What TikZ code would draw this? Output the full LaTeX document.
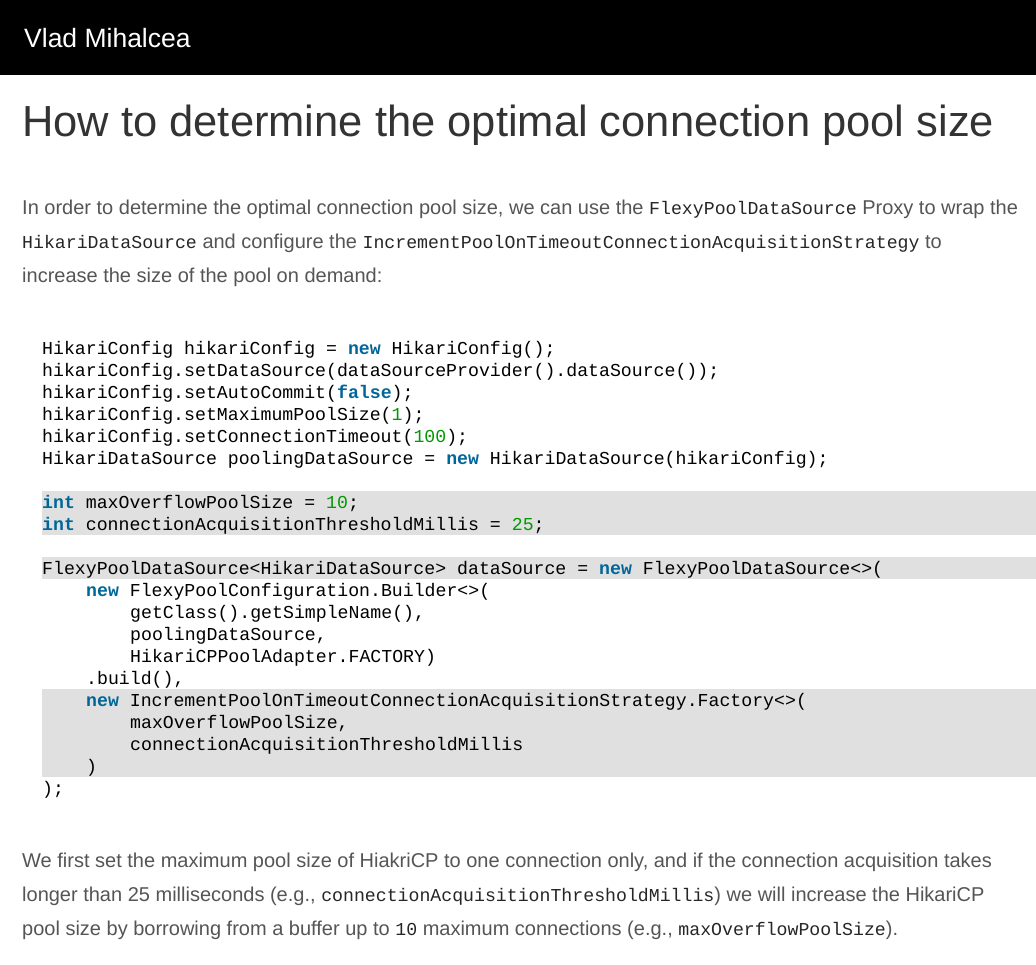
\documentclass[tikz,border=0pt]{standalone}
\usepackage{fontspec}
\setmainfont{Liberation Sans}
\newfontfamily\cm[Scale=1]{Liberation Mono}
\definecolor{kw}{HTML}{006699}
\definecolor{num}{HTML}{009900}
\definecolor{txt}{HTML}{555555}
\definecolor{hl}{HTML}{E0E0E0}
\newcommand{\kw}[1]{\textbf{\color{kw}#1}}
\newcommand{\nm}[1]{{\color{num}#1}}
\begin{document}
\begin{tikzpicture}[x=1pt,y=-1pt,
  code/.style={anchor=base west,inner sep=0pt,font=\fontsize{18.2}{22}\cm,text=black},
  para/.style={anchor=base west,inner sep=0pt,font=\fontsize{20}{24}\selectfont,text=txt}]
\useasboundingbox (0,0) rectangle (1036,964);
\fill[white] (0,0) rectangle (1036,964);
\fill[black] (0,0) rectangle (1036,75);
\node[anchor=base west,inner sep=0pt,text=white,font=\fontsize{26.5}{30}\selectfont] (hdr) at (24,47) {Vlad Mihalcea};
\node[anchor=base west,inner sep=0pt,text=black!80,font=\fontsize{43.5}{50}\selectfont] (title) at (22,136) {How to determine the optimal connection pool size};
\newcommand{\ic}[1]{{\fontsize{18.2}{22}\cm\color{black!85}#1}}
\node[para] (p1) at (22,214) {In order to determine the optimal connection pool size, we can use the \ic{FlexyPoolDataSource} Proxy to wrap the};
\node[para] (p2) at (22,248) {\ic{HikariDataSource} and configure the \ic{IncrementPoolOnTimeoutConnectionAcquisitionStrategy} to};
\node[para] (p3) at (22,282) {increase the size of the pool on demand:};
% highlights
\fill[hl] (42,491) rectangle (1036,535);
\fill[hl] (42,557) rectangle (1036,579);
\fill[hl] (42,689) rectangle (1036,777);
\node[code] (c1) at (42,354) {HikariConfig hikariConfig = \kw{new} HikariConfig();};
\node[code] (c2) at (42,376) {hikariConfig.setDataSource(dataSourceProvider().dataSource());};
\node[code] (c3) at (42,398) {hikariConfig.setAutoCommit(\kw{false});};
\node[code] (c4) at (42,420) {hikariConfig.setMaximumPoolSize(\nm{1});};
\node[code] (c5) at (42,442) {hikariConfig.setConnectionTimeout(\nm{100});};
\node[code] (c6) at (42,464) {HikariDataSource poolingDataSource = \kw{new} HikariDataSource(hikariConfig);};
\node[code] (c7) at (42,508) {\kw{int} maxOverflowPoolSize = \nm{10};};
\node[code] (c8) at (42,530) {\kw{int} connectionAcquisitionThresholdMillis = \nm{25};};
\node[code] (c9) at (42,574) {FlexyPoolDataSource<HikariDataSource> dataSource = \kw{new} FlexyPoolDataSource<>(};
\node[code] (c10) at (86,596) {\kw{new} FlexyPoolConfiguration.Builder<>(};
\node[code] (c11) at (130,618) {getClass().getSimpleName(),};
\node[code] (c12) at (130,640) {poolingDataSource,};
\node[code] (c13) at (130,662) {HikariCPPoolAdapter.FACTORY)};
\node[code] (c14) at (86,684) {.build(),};
\node[code] (c15) at (86,706) {\kw{new} IncrementPoolOnTimeoutConnectionAcquisitionStrategy.Factory<>(};
\node[code] (c16) at (130,728) {maxOverflowPoolSize,};
\node[code] (c17) at (130,750) {connectionAcquisitionThresholdMillis};
\node[code] (c18) at (86,772) {)};
\node[code] (c19) at (42,794) {);};
\node[para] (q1) at (22,867) {We first set the maximum pool size of HiakriCP to one connection only, and if the connection acquisition takes};
\node[para] (q2) at (22,901) {longer than 25 milliseconds (e.g., \ic{connectionAcquisitionThresholdMillis}) we will increase the HikariCP};
\node[para] (q3) at (22,935) {pool size by borrowing from a buffer up to \ic{10} maximum connections (e.g., \ic{maxOverflowPoolSize}).};
\end{tikzpicture}
\end{document}
